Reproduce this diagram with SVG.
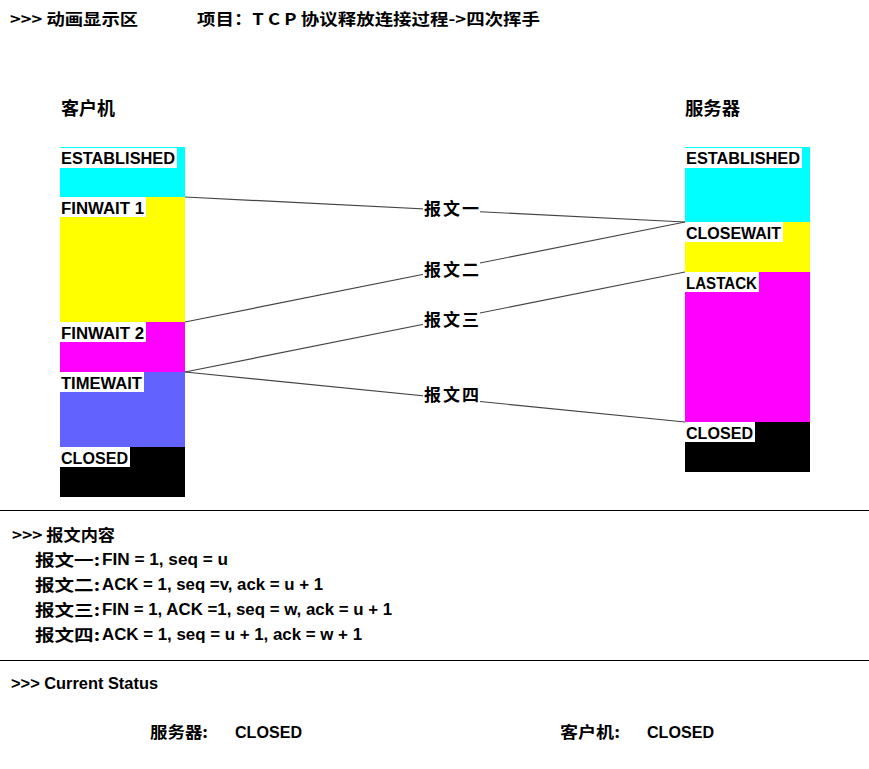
<svg xmlns="http://www.w3.org/2000/svg" width="869" height="769" viewBox="0 0 869 769">
<style>
.cj{font-family:"Noto Sans CJK SC","Liberation Sans",sans-serif;font-weight:bold;fill:#000}
.lb{font-family:"Liberation Sans",Arial,sans-serif;font-weight:bold;font-size:16px;fill:#000}
.st{font-family:"Liberation Sans",Arial,sans-serif;font-weight:bold;font-size:17px;fill:#000}
.conn{stroke:#444;stroke-width:1.2;fill:none}
.tag{fill:#fff}
</style>
<rect width="869" height="769" fill="#fff"/>
<g id="header">
<text class="cj" x="10" y="25" font-size="16" textLength="128" lengthAdjust="spacingAndGlyphs">&gt;&gt;&gt; 动画显示区</text>
<text class="cj" x="197" y="25" font-size="16" textLength="343" lengthAdjust="spacingAndGlyphs">项目：T C P 协议释放连接过程-&gt;四次挥手</text>
</g>
<g id="client">
<text class="cj" x="61" y="115" font-size="18" textLength="54" lengthAdjust="spacingAndGlyphs">客户机</text>
<rect x="60" y="147" width="125" height="50" fill="#00ffff"/>
<rect x="60" y="197" width="125" height="125" fill="#ffff00"/>
<rect x="60" y="322" width="125" height="50" fill="#ff00ff"/>
<rect x="60" y="372" width="125" height="75" fill="#6262ff"/>
<rect x="60" y="447" width="125" height="50" fill="#000"/>
<rect class="tag" x="60" y="148" width="117" height="20"/>
<text class="lb" x="61" y="164" textLength="114" lengthAdjust="spacingAndGlyphs">ESTABLISHED</text>
<rect class="tag" x="60" y="197" width="86" height="20"/>
<text class="lb" x="61" y="214" textLength="83" lengthAdjust="spacingAndGlyphs">FINWAIT 1</text>
<rect class="tag" x="60" y="322" width="86" height="20"/>
<text class="lb" x="61" y="339" textLength="83" lengthAdjust="spacingAndGlyphs">FINWAIT 2</text>
<rect class="tag" x="60" y="372" width="84" height="20"/>
<text class="lb" x="61" y="389" textLength="81" lengthAdjust="spacingAndGlyphs">TIMEWAIT</text>
<rect class="tag" x="60" y="447" width="70" height="20"/>
<text class="lb" x="61" y="464" textLength="67" lengthAdjust="spacingAndGlyphs">CLOSED</text>
</g>
<g id="server">
<text class="cj" x="685" y="115" font-size="18" textLength="55" lengthAdjust="spacingAndGlyphs">服务器</text>
<rect x="685" y="147" width="125" height="75" fill="#00ffff"/>
<rect x="685" y="222" width="125" height="50" fill="#ffff00"/>
<rect x="685" y="272" width="125" height="150" fill="#ff00ff"/>
<rect x="685" y="422" width="125" height="50" fill="#000"/>
<rect class="tag" x="685" y="148" width="117" height="20"/>
<text class="lb" x="686" y="164" textLength="114" lengthAdjust="spacingAndGlyphs">ESTABLISHED</text>
<rect class="tag" x="685" y="222" width="98" height="20"/>
<text class="lb" x="686" y="239" textLength="95" lengthAdjust="spacingAndGlyphs">CLOSEWAIT</text>
<rect class="tag" x="685" y="272" width="74" height="20"/>
<text class="lb" x="686" y="289" textLength="71" lengthAdjust="spacingAndGlyphs">LASTACK</text>
<rect class="tag" x="685" y="422" width="70" height="20"/>
<text class="lb" x="686" y="439" textLength="67" lengthAdjust="spacingAndGlyphs">CLOSED</text>
</g>
<g id="connectors">
<line class="conn" x1="185" y1="197" x2="685" y2="222"/>
<line class="conn" x1="685" y1="222" x2="185" y2="322"/>
<line class="conn" x1="685" y1="272" x2="185" y2="372"/>
<line class="conn" x1="185" y1="372" x2="685" y2="422"/>
<rect class="tag" x="423" y="199" width="57" height="20"/>
<text class="cj" x="424" y="215" font-size="17" textLength="55" lengthAdjust="spacing">报文一</text>
<rect class="tag" x="423" y="260" width="57" height="20"/>
<text class="cj" x="424" y="276" font-size="17" textLength="55" lengthAdjust="spacing">报文二</text>
<rect class="tag" x="423" y="310" width="57" height="20"/>
<text class="cj" x="424" y="326" font-size="17" textLength="55" lengthAdjust="spacing">报文三</text>
<rect class="tag" x="423" y="385" width="57" height="20"/>
<text class="cj" x="424" y="401" font-size="17" textLength="55" lengthAdjust="spacing">报文四</text>
</g>
<g id="dividers">
<line x1="0" y1="510.5" x2="869" y2="510.5" stroke="#000" stroke-width="1"/>
<line x1="0" y1="660.5" x2="869" y2="660.5" stroke="#000" stroke-width="1"/>
</g>
<g id="messages">
<text class="cj" x="12" y="541" font-size="16" textLength="103" lengthAdjust="spacingAndGlyphs">&gt;&gt;&gt; 报文内容</text>
<text class="cj" x="35" y="566" font-size="16" textLength="65" lengthAdjust="spacingAndGlyphs">报文一:</text>
<text class="lb" x="102" y="565" textLength="126" lengthAdjust="spacingAndGlyphs">FIN = 1, seq = u</text>
<text class="cj" x="35" y="591" font-size="16" textLength="65" lengthAdjust="spacingAndGlyphs">报文二:</text>
<text class="lb" x="102" y="590" textLength="221" lengthAdjust="spacingAndGlyphs">ACK = 1, seq =v, ack = u + 1</text>
<text class="cj" x="35" y="616" font-size="16" textLength="65" lengthAdjust="spacingAndGlyphs">报文三:</text>
<text class="lb" x="102" y="615" textLength="290" lengthAdjust="spacingAndGlyphs">FIN = 1, ACK =1, seq = w, ack = u + 1</text>
<text class="cj" x="35" y="641" font-size="16" textLength="65" lengthAdjust="spacingAndGlyphs">报文四:</text>
<text class="lb" x="102" y="640" textLength="260" lengthAdjust="spacingAndGlyphs">ACK = 1, seq = u + 1, ack = w + 1</text>
</g>
<g id="status">
<text class="st" x="11" y="689" textLength="147" lengthAdjust="spacingAndGlyphs">&gt;&gt;&gt; Current Status</text>
<text class="cj" x="150" y="738" font-size="16" textLength="58" lengthAdjust="spacingAndGlyphs">服务器:</text>
<text class="st" x="235" y="738" textLength="67" lengthAdjust="spacingAndGlyphs">CLOSED</text>
<text class="cj" x="560" y="738" font-size="16" textLength="60" lengthAdjust="spacingAndGlyphs">客户机:</text>
<text class="st" x="647" y="738" textLength="67" lengthAdjust="spacingAndGlyphs">CLOSED</text>
</g>
</svg>
